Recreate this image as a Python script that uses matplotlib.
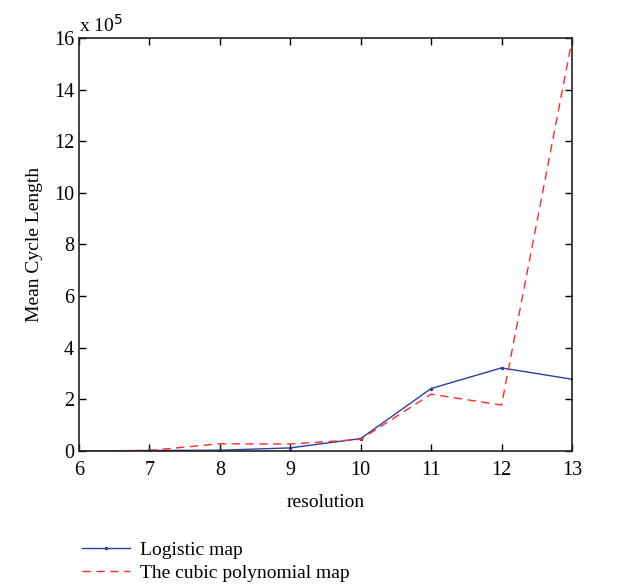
import matplotlib
matplotlib.use("Agg")
import matplotlib.pyplot as plt

plt.rcParams['font.family'] = ['Liberation Serif', 'DejaVu Serif']

# resolution vs mean cycle length (in units of 1e5)
resolution = [6, 7, 8, 9, 10, 11, 12, 13]
logistic = [0.0, 0.02, 0.03, 0.12, 0.48, 2.42, 3.22, 2.78]
cubic = [0.0, 0.02, 0.28, 0.27, 0.45, 2.2, 1.78, 15.9]

fig = plt.figure(figsize=(6.24, 5.87), dpi=100)
ax = fig.add_axes([0.1266, 0.2317, 0.79, 0.7036])

a, = ax.plot(resolution, logistic, color='#2b3fa0', linewidth=1, marker='.', markersize=3,
             label='Logistic map')
b, = ax.plot(resolution, cubic, color='#ff2a2a', linewidth=1, linestyle=(0, (6, 4)),
             label='The cubic polynomial map')

ax.set_xlim(6, 13)
ax.set_ylim(0, 16)
ax.set_xticks(resolution)
ax.set_yticks(range(0, 17, 2))
ax.tick_params(direction='in', top=True, right=True, labelsize=14.5, length=5, width=1)
ax.tick_params(axis='x', pad=7)
for s in ax.spines.values():
    s.set_linewidth(1.2)
    s.set_color('#222222')

ax.set_xlabel('resolution', fontsize=14, labelpad=10)
ax.set_ylabel('Mean Cycle Length', fontsize=14, labelpad=8)
ax.text(0.0, 1.005, r'x 10$^{5}$', transform=ax.transAxes, fontsize=14, va='bottom', ha='left')

fig.legend(handles=[a, b], loc='lower left', bbox_to_anchor=(0.1, -0.025), frameon=False,
           fontsize=14, handlelength=2.5, handletextpad=0.5, labelspacing=0.3, borderaxespad=0.6)

fig.savefig('out.png', dpi=100)
